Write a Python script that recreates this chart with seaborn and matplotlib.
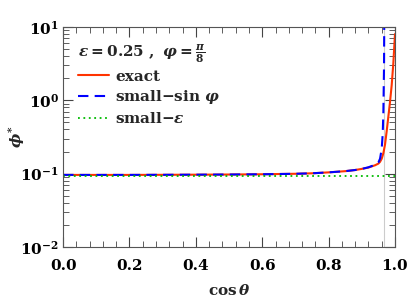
import numpy as np
import pandas as pd
import matplotlib
matplotlib.use("Agg")
import matplotlib.pyplot as plt
import seaborn as sns
from matplotlib.ticker import MultipleLocator, LogLocator, NullFormatter, FuncFormatter

# Values
cos_theta = [0.0, 0.1, 0.2, 0.3, 0.4, 0.5, 0.6, 0.7, 0.75, 0.8, 0.85, 0.88, 0.9, 0.92,
             0.94, 0.95, 0.955, 0.96, 0.965, 0.97, 0.975, 0.98, 0.985, 0.99, 0.995, 1.0]
exact = [0.096, 0.096, 0.096, 0.0963, 0.0967, 0.0972, 0.098, 0.0995, 0.101, 0.104, 0.108,
         0.112, 0.116, 0.121, 0.13, 0.137, 0.145, 0.16, 0.19, 0.25, 0.38, 0.6, 0.95,
         1.6, 3.2, 8.0]

cos_sin = [0.0, 0.1, 0.2, 0.3, 0.4, 0.5, 0.6, 0.7, 0.75, 0.8, 0.85, 0.88, 0.9, 0.92,
           0.94, 0.95, 0.955, 0.96, 0.963, 0.965, 0.967, 0.968]
small_sin = [0.096, 0.096, 0.096, 0.0963, 0.0967, 0.0972, 0.098, 0.0995, 0.101, 0.104, 0.108,
             0.112, 0.116, 0.122, 0.132, 0.142, 0.16, 0.22, 0.35, 0.7, 3.0, 30.0]

cos_eps = [0.0, 1.0]
small_eps = [0.094, 0.094]

sns.set_style("ticks")
plt.rcParams["font.family"] = ["DejaVu Serif"]
plt.rcParams["font.weight"] = "bold"
plt.rcParams["mathtext.fontset"] = "custom"
plt.rcParams["mathtext.rm"] = "DejaVu Serif:bold"
plt.rcParams["mathtext.bf"] = "DejaVu Serif:bold"
plt.rcParams["mathtext.it"] = "DejaVu Serif:italic:bold"
plt.rcParams["mathtext.default"] = "it"

fig = plt.figure(figsize=(4.07, 3.03), dpi=100)
ax = fig.add_axes([0.155, 0.185, 0.8155, 0.726])

ax.axvline(0.966, color="#cccccc", lw=0.8, zorder=0)

d1 = pd.DataFrame({"x": cos_theta, "y": exact})
d2 = pd.DataFrame({"x": cos_sin, "y": small_sin})
d3 = pd.DataFrame({"x": cos_eps, "y": small_eps})
sns.lineplot(data=d1, x="x", y="y", ax=ax, color="#ff3300", lw=1.5, label="exact")
sns.lineplot(data=d2, x="x", y="y", ax=ax, color="#0000ff", lw=1.5, ls=(0, (5, 3)),
             label=r"small$-\mathrm{\sin}\,\varphi$")
sns.lineplot(data=d3, x="x", y="y", ax=ax, color="#00bb00", lw=1.3, ls=(0, (1, 2)),
             label=r"small$-\epsilon$")

ax.set_yscale("log")
ax.set_xlim(0, 1)
ax.set_ylim(1e-2, 1e1)
ax.xaxis.set_major_locator(MultipleLocator(0.2))
ax.xaxis.set_minor_locator(MultipleLocator(0.04))
ax.yaxis.set_major_locator(LogLocator(base=10))
ax.yaxis.set_minor_locator(LogLocator(base=10, subs=np.arange(2, 10)))
ax.yaxis.set_minor_formatter(NullFormatter())
ax.xaxis.set_major_formatter(FuncFormatter(lambda v, p: "%.1f" % v))
ax.yaxis.set_major_formatter(
    FuncFormatter(lambda v, p: r"$\mathrm{10^{%d}}$" % int(round(np.log10(v)))))
ax.tick_params(which="both", direction="in", top=True, right=True, colors="#444444",
               labelcolor="black", labelsize=11)
ax.tick_params(which="major", length=7)
ax.tick_params(which="minor", length=4)
ax.tick_params(axis="x", pad=9)
ax.tick_params(axis="y", pad=3)
for s in ax.spines.values():
    s.set_color("#555555")

ax.set_xlabel(r"$\mathrm{cos}\,\theta$", fontsize=11)
ax.set_ylabel(r"$\phi^{*}$", fontsize=11)
ax.xaxis.set_label_coords(0.5, -0.165)
ax.yaxis.set_label_coords(-0.11, 0.5)

leg = ax.legend(loc="upper left", frameon=False, fontsize=11,
                title=r"$\epsilon = \mathrm{0.25}\ ,\ \varphi = \frac{\pi}{\mathrm{8}}$",
                title_fontsize=11, handlelength=2.0, borderaxespad=0.6,
                labelspacing=0.3, handletextpad=0.4)
leg._legend_box.align = "left"

fig.savefig("out.png", dpi=100)
